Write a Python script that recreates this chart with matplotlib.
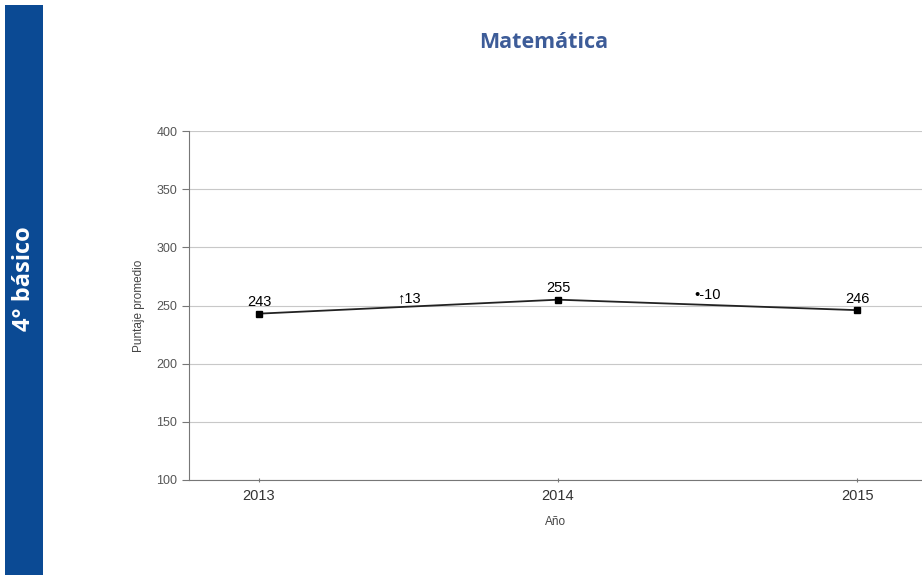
import matplotlib.pyplot as plt
from matplotlib.patches import Rectangle

# data
years = [2013, 2014, 2015]
scores = [243, 255, 246]
diff_labels = ["\u2191" + "13", "\u2022" + "-10"]
diff_pos = [2013.5, 2014.5]
diff_y = [256, 259]

fig = plt.figure(figsize=(9.22, 5.75), dpi=100)
plt.rcParams['font.family'] = ['Liberation Sans', 'DejaVu Sans']

# side bar
fig.patches.append(Rectangle((5/922, 0), 38/922, 570/575, transform=fig.transFigure,
                             facecolor='#0b4a94', edgecolor='none', zorder=0))
fig.text(24/922, 1 - 279/575, "4° básico", rotation=90, color='white', fontsize=17,
         fontweight='bold', family='Open Sans', ha='center', va='center')

fig.text(544/922, 1 - 43/575, "Matemática", color='#3d5c98', fontsize=15.5,
         fontweight='bold', family='Open Sans', ha='center', va='center')

ax = fig.add_axes([189/922, 95/575, 733/922, 349/575])
ax.plot(years, scores, color='#222222', lw=1.3, marker='s', ms=4, mfc='black', mec='black')

for x, y in zip(years, scores):
    ax.text(x, y + 4, str(y), ha='center', va='bottom', fontsize=10.5, color='black')
for x, y, t in zip(diff_pos, diff_y, diff_labels):
    ax.text(x, y, t, ha='center', va='center', fontsize=10.5, color='black')

ax.set_xlim(2012.766, 2015.217)
ax.set_ylim(100, 400)
ax.set_yticks(range(100, 401, 50))
ax.set_xticks(years)
ax.yaxis.grid(True, color='#c8c8c8', lw=0.8)
ax.set_axisbelow(True)
for s in ['top', 'right']:
    ax.spines[s].set_visible(False)
ax.spines['left'].set_color('#777777')
ax.spines['bottom'].set_color('#777777')
ax.tick_params(axis='y', length=5, color='#777777', labelsize=9, labelcolor='#555555')
ax.tick_params(axis='x', length=3, direction='inout', color='#777777', labelsize=10.5,
               labelcolor='#333333', pad=5)
ax.set_ylabel("Puntaje promedio", fontsize=8.5, color='#444444', labelpad=8)
ax.set_xlabel("Año", fontsize=8.5, color='#444444', labelpad=9)

fig.savefig('out.png', dpi=100)
